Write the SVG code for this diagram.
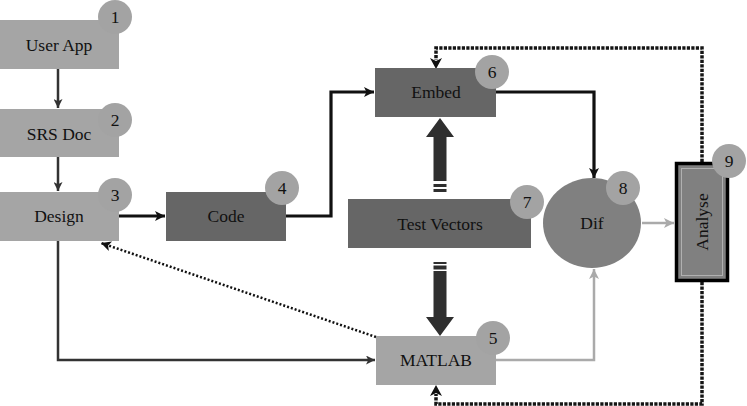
<svg xmlns="http://www.w3.org/2000/svg" width="747" height="406" viewBox="0 0 747 406">
<style>
text{font-family:'Liberation Serif','Times New Roman',serif;font-size:17.5px;fill:#111;text-anchor:middle}
.lt{fill:#a5a5a5}
.dk{fill:#666666}
.badge{fill:#a3a3a3}
.ln{fill:none;stroke:#333;stroke-width:2.5}
.th{fill:none;stroke:#111;stroke-width:3.2}
.gr{fill:none;stroke:#aaaaaa;stroke-width:2.5}
.dt{fill:none;stroke:#111;stroke-width:2.5;stroke-dasharray:2 2}
.lp{fill:none;stroke:#151515;stroke-width:3.5;stroke-dasharray:3.2 1.3}
</style>
<defs>
<marker id="ah" viewBox="0 0 10 10" refX="10" refY="5" markerWidth="10" markerHeight="9" markerUnits="userSpaceOnUse" orient="auto"><path d="M0,0 L10,5 L0,10 L2.5,5 z" fill="#333"/></marker>
<marker id="ahk" viewBox="0 0 10 10" refX="10" refY="5" markerWidth="12" markerHeight="10" markerUnits="userSpaceOnUse" orient="auto"><path d="M0,0 L10,5 L0,10 L2.5,5 z" fill="#111"/></marker>
<marker id="ahg" viewBox="0 0 10 10" refX="10" refY="5" markerWidth="12" markerHeight="10" markerUnits="userSpaceOnUse" orient="auto"><path d="M0,0 L10,5 L0,10 L2.5,5 z" fill="#aaaaaa"/></marker>
</defs>

<g id="connectors">
<path class="ln" d="M58,69 V108" marker-end="url(#ah)"/>
<path class="ln" d="M58,157 V191" marker-end="url(#ah)"/>
<path class="th" d="M119,216 H165" marker-end="url(#ahk)"/>
<path class="th" d="M286,216 H331 V92 H374" marker-end="url(#ahk)"/>
<path class="th" d="M496,92 H594 V178" marker-end="url(#ahk)"/>
<path class="ln" d="M58,241 V360 H375" marker-end="url(#ah)"/>
<path class="dt" d="M376,337 L101,243" marker-end="url(#ahk)"/>
<path class="gr" d="M496,360 H594 V269" marker-end="url(#ahg)"/>
<path class="gr" d="M642,223 H674" marker-end="url(#ahg)"/>
<path class="lp" d="M702,162 V48 H436 V60"/>
<path d="M430,58 L436,69 L442,58 L436,61 z" fill="#111"/>
<path class="lp" d="M702,282 V404 H436 V394"/>
<path d="M430,396 L436,385 L442,396 L436,393 z" fill="#111"/>
<g fill="#2f2f2f">
<path d="M433.5,181 V137 H426 L440,118 L454,137 H446.5 V181 z"/>
<rect x="433.5" y="184" width="13" height="3"/>
<rect x="433.5" y="189" width="13" height="3"/>
<path d="M433.5,271 V317 H426 L440,336 L454,317 H446.5 V271 z"/>
<rect x="433.5" y="262" width="13" height="2"/>
<rect x="433.5" y="265.5" width="13" height="4"/>
</g>
</g>

<g font-family="Liberation Serif, Times New Roman, serif">
<g id="n1"><rect class="lt" x="0" y="20" width="119" height="49"/><text x="59" y="51">User App</text><circle class="badge" cx="115" cy="17" r="17"/><text x="115" y="23">1</text></g>
<g id="n2"><rect class="lt" x="0" y="109" width="119" height="48"/><text x="59" y="140">SRS Doc</text><circle class="badge" cx="115" cy="120" r="17"/><text x="115" y="126">2</text></g>
<g id="n3"><rect class="lt" x="0" y="192" width="119" height="49"/><text x="59" y="222">Design</text><circle class="badge" cx="115" cy="195" r="17"/><text x="115" y="201">3</text></g>
<g id="n4"><rect class="dk" x="166" y="192" width="120" height="49"/><text x="226" y="222">Code</text><circle class="badge" cx="282" cy="188" r="17"/><text x="282" y="194">4</text></g>
<g id="n6"><rect class="dk" x="375" y="68" width="121" height="49"/><text x="436" y="98">Embed</text><circle class="badge" cx="492" cy="72" r="17"/><text x="492" y="78">6</text></g>
<g id="n7"><rect class="dk" x="348" y="199" width="183" height="49"/><text x="440" y="230">Test Vectors</text><circle class="badge" cx="527" cy="202" r="17"/><text x="527" y="208">7</text></g>
<g id="n5"><rect class="lt" x="376" y="336" width="120" height="49"/><text x="436" y="366">MATLAB</text><circle class="badge" cx="493" cy="338" r="17"/><text x="493" y="344">5</text></g>
<g id="n8"><ellipse cx="592" cy="223" rx="49" ry="45" fill="#808080"/><text x="592" y="229">Dif</text><circle class="badge" cx="623" cy="188" r="17"/><text x="623" y="194">8</text></g>
<g id="n9"><rect x="676.5" y="163.5" width="51" height="117" fill="#808080" stroke="#000" stroke-width="3.5"/><rect x="681.5" y="168.5" width="41" height="107" fill="none" stroke="#b0b0b0" stroke-width="1"/><text transform="translate(708,222) rotate(-90)">Analyse</text><circle class="badge" cx="729" cy="161" r="17"/><text x="729" y="167">9</text></g>
</g>
</svg>
